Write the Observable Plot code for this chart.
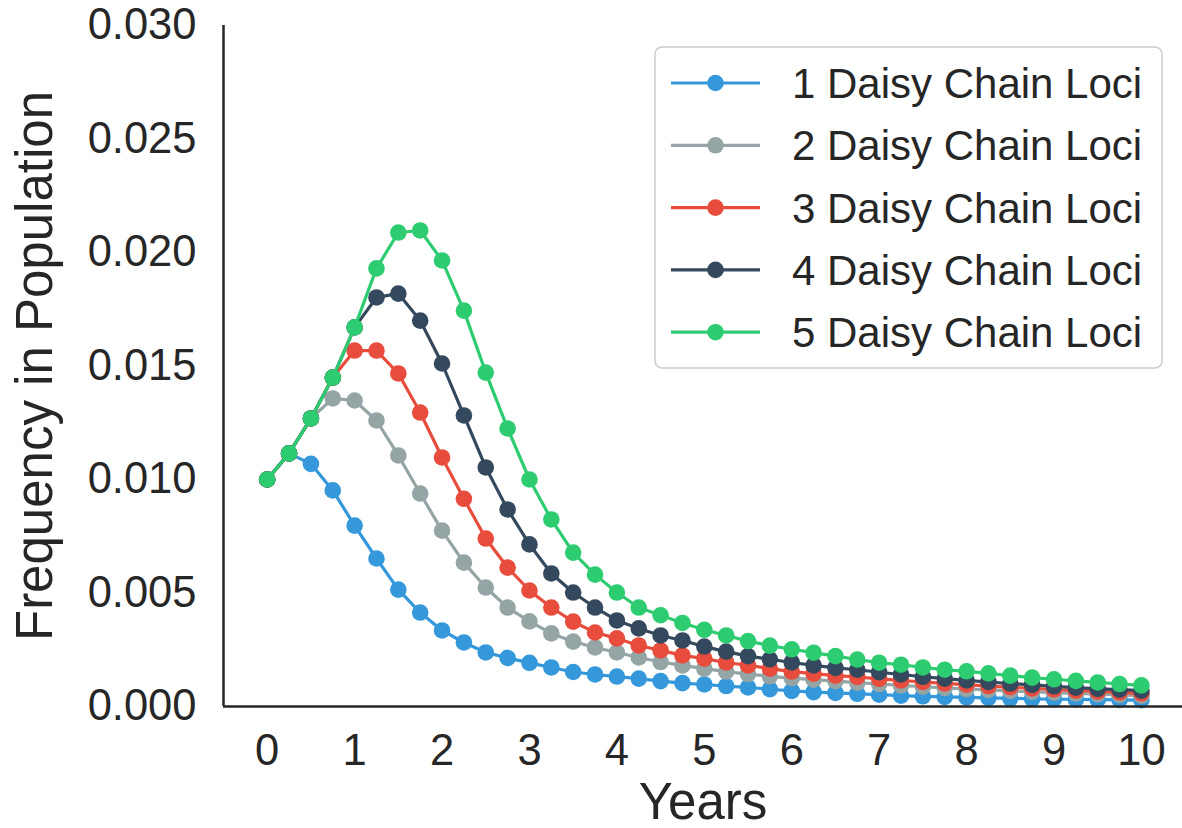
<!DOCTYPE html>
<html>
<head>
<meta charset="utf-8">
<script src="https://cdn.jsdelivr.net/npm/d3@7"></script>
<script src="https://cdn.jsdelivr.net/npm/@observablehq/plot@0.6"></script>
<style>
  html, body { margin: 0; padding: 0; background: #ffffff; }
  #chart svg { display: block; }
</style>
</head>
<body>
<div id="chart"></div>
<script>
// ---- data ----
const years = [0, 0.25, 0.5, 0.75, 1, 1.25, 1.5, 1.75, 2, 2.25, 2.5, 2.75, 3, 3.25, 3.5, 3.75, 4, 4.25, 4.5, 4.75, 5,
  5.25, 5.5, 5.75, 6, 6.25, 6.5, 6.75, 7, 7.25, 7.5, 7.75, 8, 8.25, 8.5, 8.75, 9, 9.25, 9.5, 9.75, 10];

const loci1 = [0.0100, 0.01115, 0.01069, 0.00952, 0.00797, 0.00652, 0.00515, 0.00414, 0.00335, 0.00282, 0.00238,
  0.00214, 0.00192, 0.00172, 0.00152, 0.00141, 0.00132, 0.00123, 0.00112, 0.00103, 0.00097,
  0.00090, 0.00084, 0.00076, 0.00069, 0.00063, 0.00060, 0.00056, 0.00052, 0.00048, 0.00045,
  0.00042, 0.00040, 0.00038, 0.00036, 0.00034, 0.00032, 0.00031, 0.00030, 0.00029, 0.00028];

const loci2 = [0.0100, 0.01115, 0.01269, 0.01357, 0.01348, 0.01260, 0.01106, 0.00938, 0.00775, 0.00634, 0.00524,
  0.00436, 0.00375, 0.00322, 0.00286, 0.00260, 0.00238, 0.00216, 0.00196, 0.00181, 0.00167,
  0.00154, 0.00143, 0.00133, 0.00125, 0.00118, 0.00112, 0.00105, 0.00099, 0.00093, 0.00087,
  0.00082, 0.00077, 0.00073, 0.00069, 0.00065, 0.00061, 0.00058, 0.00054, 0.00051, 0.00048];

const loci3 = [0.0100, 0.01115, 0.01269, 0.01449, 0.01568, 0.01568, 0.01467, 0.01295, 0.01097, 0.00915, 0.00740,
  0.00612, 0.00511, 0.00436, 0.00374, 0.00326, 0.00300, 0.00269, 0.00247, 0.00225, 0.00211,
  0.00194, 0.00181, 0.00167, 0.00154, 0.00145, 0.00136, 0.00130, 0.00122, 0.00115, 0.00108,
  0.00102, 0.00096, 0.00090, 0.00085, 0.00080, 0.00075, 0.00070, 0.00066, 0.00062, 0.00058];

const loci4 = [0.0100, 0.01115, 0.01269, 0.01449, 0.01670, 0.01802, 0.01819, 0.01700, 0.01511, 0.01282, 0.01053,
  0.00868, 0.00714, 0.00586, 0.00502, 0.00436, 0.00379, 0.00344, 0.00313, 0.00291, 0.00264,
  0.00242, 0.00222, 0.00208, 0.00194, 0.00181, 0.00170, 0.00162, 0.00151, 0.00141, 0.00131,
  0.00123, 0.00115, 0.00108, 0.00101, 0.00095, 0.00089, 0.00083, 0.00078, 0.00074, 0.00070];

const loci5 = [0.0100, 0.01115, 0.01269, 0.01449, 0.01670, 0.01930, 0.02088, 0.02097, 0.01965, 0.01744, 0.01471,
  0.01225, 0.01000, 0.00824, 0.00678, 0.00581, 0.00502, 0.00436, 0.00402, 0.00368, 0.00338,
  0.00313, 0.00288, 0.00268, 0.00252, 0.00237, 0.00222, 0.00207, 0.00193, 0.00184, 0.00172,
  0.00162, 0.00155, 0.00146, 0.00136, 0.00127, 0.00120, 0.00113, 0.00106, 0.00099, 0.00093];

const seriesNames = ["1 Daisy Chain Loci", "2 Daisy Chain Loci", "3 Daisy Chain Loci", "4 Daisy Chain Loci", "5 Daisy Chain Loci"];
const seriesColors = ["#3498db", "#95a5a6", "#e74c3c", "#34495e", "#2ecc71"];
const xTicks = [0, 1, 2, 3, 4, 5, 6, 7, 8, 9, 10];
const yTicks = [0, 0.005, 0.010, 0.015, 0.020, 0.025, 0.030];
const xLabel = "Years";
const yLabel = "Frequency in Population";

// ---- build table ----
const seriesValues = [loci1, loci2, loci3, loci4, loci5];
const rows = [];
seriesValues.forEach((vals, s) => vals.forEach((v, i) => rows.push({year: years[i], freq: v, series: seriesNames[s]})));

const W = 1182, H = 828;
const FONT = "'Liberation Sans', Arial, 'DejaVu Sans', sans-serif";
const INK = "#262626";
const xDomain = [-0.5, 10.47];

const marks = [];
seriesNames.forEach((name, s) => {
  const d = rows.filter(r => r.series === name);
  marks.push(Plot.line(d, {x: "year", y: "freq", stroke: seriesColors[s], strokeWidth: 3.2}));
  marks.push(Plot.dot(d, {x: "year", y: "freq", fill: seriesColors[s], r: 8.3, stroke: "none"}));
});

const chart = Plot.plot({
  width: W,
  height: H,
  marginLeft: 223,
  marginRight: 0,
  marginTop: 25,
  marginBottom: 122,
  style: {fontFamily: FONT, color: INK, background: "#ffffff", overflow: "visible"},
  x: {domain: xDomain},
  y: {domain: [0, 0.03]},
  marks: [
    Plot.axisX({ticks: xTicks, tickSize: 0, tickPadding: 28, fontSize: 43.5, label: null, tickFormat: d => String(d)}),
    Plot.axisY({ticks: yTicks, tickSize: 0, tickPadding: 27, fontSize: 43.5, label: null, tickFormat: d3.format(".3f")}),
    ...marks,
    Plot.ruleY([0], {stroke: INK, strokeWidth: 2.5}),
    Plot.ruleX([xDomain[0]], {y1: 0, y2: 0.03, stroke: INK, strokeWidth: 2.5}),
    Plot.text([xLabel], {text: d => d, frameAnchor: "bottom", dy: 96, fontSize: 51, fill: INK, lineAnchor: "middle", textAnchor: "middle"}),
    Plot.text([yLabel], {text: d => d, frameAnchor: "left", dx: -188, rotate: -90, fontSize: 51, fill: INK, lineAnchor: "middle", textAnchor: "middle"})
  ]
});

document.getElementById("chart").appendChild(chart);

// ---- legend (drawn in pixel space on top of the plot) ----
const svg = d3.select(chart);
const lg = svg.append("g").attr("class", "legend").attr("text-anchor", "start");
lg.append("rect")
  .attr("x", 655).attr("y", 47).attr("width", 507).attr("height", 321)
  .attr("rx", 7).attr("ry", 7)
  .attr("fill", "#ffffff").attr("fill-opacity", 0.8)
  .attr("stroke", "#cccccc").attr("stroke-width", 1.5);
seriesNames.forEach((name, s) => {
  const cy = 83 + s * 62.3;
  lg.append("line").attr("x1", 671).attr("x2", 760).attr("y1", cy).attr("y2", cy)
    .attr("stroke", seriesColors[s]).attr("stroke-width", 3.2);
  lg.append("circle").attr("cx", 715.5).attr("cy", cy).attr("r", 8.3).attr("fill", seriesColors[s]);
  lg.append("text").attr("x", 792).attr("y", cy).attr("dy", "0.36em")
    .attr("text-anchor", "start")
    .attr("font-size", 42).attr("font-family", FONT).attr("fill", INK).text(name);
});
</script>
</body>
</html>
